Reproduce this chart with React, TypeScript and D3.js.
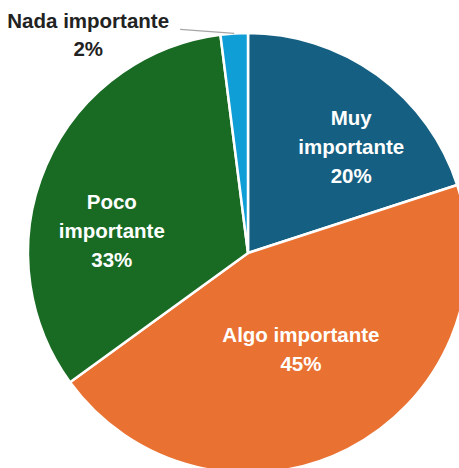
import React from "react";
import * as d3 from "d3";

const categories = ["Muy importante", "Algo importante", "Poco importante", "Nada importante"];
const values = [20, 45, 33, 2];
const colors = ["#156082", "#E97132", "#196B24", "#0F9ED5"];
const labelLines = [["Muy", "importante"], ["Algo importante"], ["Poco", "importante"], ["Nada importante"]];
// label nudges relative to arc centroid (Excel's inside-label placement)
const labelNudge = [[23, 4], [-9, -25], [-11, 32], [0, 0]];

const W = 459, H = 468;
const cx = 248, cy = 253, R = 220;

export default function App() {
  const pie = d3.pie<number>().sort(null).value((d) => d);
  const arcs = pie(values);
  const arc = d3.arc<d3.PieArcDatum<number>>().innerRadius(0).outerRadius(R);
  const labelArc = d3.arc<d3.PieArcDatum<number>>().innerRadius(R * 0.62).outerRadius(R * 0.62);
  const fs = 20.5, lh = 29;
  const font = "'Liberation Sans', Arial, sans-serif";

  return (
    <svg width={W} height={H} style={{ position: "absolute", left: 0, top: 0, background: "#fff" }}>
      <g transform={`translate(${cx},${cy})`}>
        {arcs.map((a, i) => (
          <path key={i} d={arc(a) || ""} fill={colors[i]} stroke="#fff" strokeWidth={2.5} strokeLinejoin="round" />
        ))}
        {arcs.map((a, i) => {
          if (i === 3) return null;
          const [x0, y0] = labelArc.centroid(a);
          const x = x0 + labelNudge[i][0];
          const y = y0 + labelNudge[i][1];
          const lines = [...labelLines[i], `${values[i]}%`];
          const top = y - ((lines.length - 1) * lh) / 2;
          return (
            <text key={i} textAnchor="middle" fill="#fff" fontFamily={font} fontWeight="bold" fontSize={fs}>
              {lines.map((t, j) => (
                <tspan key={j} x={x} y={top + j * lh} dy="0.35em">{t}</tspan>
              ))}
            </text>
          );
        })}
        {(() => {
          const a = arcs[3];
          const mid = (a.startAngle + a.endAngle) / 2;
          const px = Math.sin(mid) * R, py = -Math.cos(mid) * R;
          const tx = px - 146;
          return (
            <g>
              <polyline points={`${px},${py} ${px - 54},${py - 4}`} fill="none" stroke="#A6A6A6" strokeWidth={1.2} />
              <text textAnchor="middle" fill="#222" fontFamily={font} fontWeight="bold" fontSize={fs}>
                <tspan x={tx} y={py - 13} dy="0.35em">{categories[3]}</tspan>
                <tspan x={tx} y={py + 15} dy="0.35em">{`${values[3]}%`}</tspan>
              </text>
            </g>
          );
        })()}
      </g>
    </svg>
  );
}
